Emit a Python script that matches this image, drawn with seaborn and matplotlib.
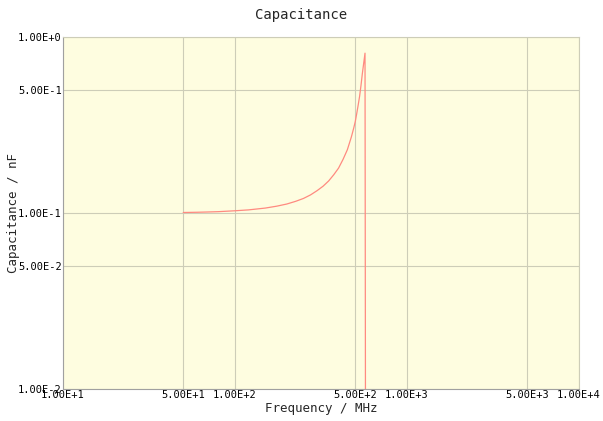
import matplotlib
matplotlib.use("Agg")
import matplotlib.pyplot as plt
import matplotlib.ticker as mticker
import numpy as np
import pandas as pd
import seaborn as sns

# values
freq_mhz = [50, 60, 70, 80, 100, 120, 150, 175, 200, 225, 250, 275, 300,
            325, 350, 375, 400, 425, 450, 475, 490, 500, 510, 520, 530,
            540, 550, 560, 570, 575]
cap_nf = [0.1007, 0.101, 0.1014, 0.1018, 0.103, 0.1042, 0.1067, 0.1094,
          0.1125, 0.1165, 0.121, 0.1268, 0.134, 0.142, 0.152, 0.165, 0.18,
          0.202, 0.229, 0.271, 0.304, 0.33, 0.367, 0.41, 0.46, 0.53, 0.62,
          0.71, 0.81, 0.001]

x_ticks = [10, 50, 100, 500, 1000, 5000, 10000]
y_ticks = [0.01, 0.05, 0.1, 0.5, 1.0]

df = pd.DataFrame({"freq": freq_mhz, "cap": cap_nf})

sns.set_style("white")
plt.rcParams["font.family"] = ["DejaVu Sans Mono"]

fig = plt.figure(figsize=(6.03, 4.21), dpi=100)
ax = fig.add_axes([0.1045, 0.076, 0.8557, 0.836])
ax.set_facecolor("#fefde0")
ax.set_xscale("log")
ax.set_yscale("log")

sns.lineplot(data=df, x="freq", y="cap", sort=False, color="#ff8a80",
             linewidth=0.9, ax=ax)

ax.set_xlim(10, 10000)
ax.set_ylim(0.01, 1.0)

fmt = mticker.FuncFormatter(lambda v, p: "%.2fE%+d" % (v / 10 ** np.floor(np.log10(v) + 1e-9),
                                                       int(np.floor(np.log10(v) + 1e-9))))
ax.xaxis.set_major_locator(mticker.FixedLocator(x_ticks))
ax.yaxis.set_major_locator(mticker.FixedLocator(y_ticks))
ax.xaxis.set_minor_locator(mticker.NullLocator())
ax.yaxis.set_minor_locator(mticker.NullLocator())
ax.xaxis.set_major_formatter(fmt)
ax.yaxis.set_major_formatter(fmt)
ax.tick_params(length=0, labelsize=7.5, pad=1, colors="black")

ax.grid(True, color="#cdcdb8", linewidth=0.8)
for s in ax.spines.values():
    s.set_color("#cdcdb8")
    s.set_linewidth(0.8)
ax.spines["left"].set_color("#a0a0a0")
ax.spines["bottom"].set_color("#a0a0a0")

ax.set_xlabel("Frequency / MHz", fontsize=9, labelpad=1)
ax.set_ylabel("Capacitance / nF", fontsize=9)
ax.yaxis.set_label_coords(-0.083, 0.5)
fig.suptitle("Capacitance", fontsize=10, y=0.98)

fig.savefig("out.png", dpi=100)
